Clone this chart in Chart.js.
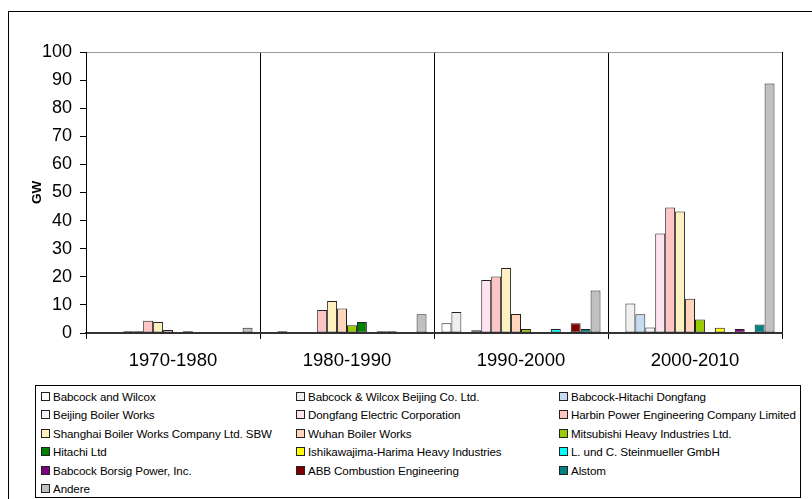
<!DOCTYPE html>
<html>
<head>
<meta charset="utf-8">
<script src="https://cdn.jsdelivr.net/npm/chart.js@4.4.0/dist/chart.umd.min.js"></script>
<style>
    html, body { margin: 0; padding: 0; background: #fff; overflow: hidden; }
    #wrap { position: relative; width: 812px; height: 499px; overflow: hidden; }
    #frame { position: absolute; left: 8px; top: 11px; width: 900px; height: 600px; border: 1px solid #000; }
    #chart { position: absolute; left: 0; top: 0; }
    #legend { position: absolute; left: 35px; top: 385px; width: 764px; height: 111px; border: 1px solid #000;
              background: #fff; font-family: "Liberation Sans", Arial, sans-serif; font-size: 11.6px; color: #000; }
    .item { position: absolute; white-space: nowrap; line-height: 14px; letter-spacing: -0.1px; }
    .box { display: inline-block; width: 7px; height: 7px; border: 1px solid #222; margin-right: 3px; vertical-align: 0px; }
</style>
</head>
<body>
<div id="wrap">
    <div id="frame"></div>
    <canvas id="chart" width="812" height="499"></canvas>
    <div id="legend"></div>
</div>
<script>
var periods = ['1970-1980', '1980-1990', '1990-2000', '2000-2010'];

var babcockWilcox      = [null, null, 3.5, null];
var babcockBeijing     = [null, 0.6, 7.5, 10.5];
var babcockHitachi     = [null, null, null, 6.7];
var beijingBoiler      = [0.6, null, 1.0, 2.0];
var dongfangElectric   = [0.6, null, 18.9, 35.4];
var harbinPower        = [4.4, 8.2, 20.1, 44.7];
var shanghaiBoiler     = [3.9, 11.4, 23.1, 43.2];
var wuhanBoiler        = [1.1, 8.7, 6.8, 12.2];
var mitsubishi         = [null, 2.8, 1.4, 4.8];
var hitachi            = [0.6, 3.9, null, null];
var ishikawajima       = [null, null, null, 1.9];
var steinmueller       = [null, 0.6, 1.4, null];
var babcockBorsig      = [null, 0.6, null, 1.4];
var abbCombustion      = [null, null, 3.5, null];
var alstom             = [null, null, 1.4, 3.0];
var andere             = [1.9, 6.7, 15.1, 88.8];

var series = [
    ['Babcock and Wilcox', babcockWilcox, '#ffffff'],
    ['Babcock & Wilcox Beijing Co. Ltd.', babcockBeijing, '#efefef'],
    ['Babcock-Hitachi Dongfang', babcockHitachi, '#c5dcf3'],
    ['Beijing Boiler Works', beijingBoiler, '#f3f3fb'],
    ['Dongfang Electric Corporation', dongfangElectric, '#ffe4ef'],
    ['Harbin Power Engineering Company Limited', harbinPower, '#ffc4c4'],
    ['Shanghai Boiler Works Company Ltd. SBW', shanghaiBoiler, '#fff0c0'],
    ['Wuhan Boiler Works', wuhanBoiler, '#ffd6bc'],
    ['Mitsubishi Heavy Industries Ltd.', mitsubishi, '#99cc00'],
    ['Hitachi Ltd', hitachi, '#008000'],
    ['Ishikawajima-Harima Heavy Industries', ishikawajima, '#ffff00'],
    ['L. und C. Steinmueller GmbH', steinmueller, '#00ffff'],
    ['Babcock Borsig Power, Inc.', babcockBorsig, '#800080'],
    ['ABB Combustion Engineering', abbCombustion, '#800000'],
    ['Alstom', alstom, '#008080'],
    ['Andere', andere, '#c0c0c0']
];

document.addEventListener('DOMContentLoaded', function () {
    var datasets = series.map(function (s) {
        return {
            label: s[0],
            data: s[1],
            backgroundColor: s[2],
            borderColor: '#222',
            borderWidth: 1,
            borderSkipped: false,
            categoryPercentage: 0.914,
            barPercentage: 1.0
        };
    });

    var ctx = document.getElementById('chart').getContext('2d');
    var chart = new Chart(ctx, {
        type: 'bar',
        data: { labels: periods, datasets: datasets },
        options: {
            responsive: false,
            animation: false,
            layout: { padding: { top: 52, right: 30, left: 0, bottom: 0 } },
            plugins: { legend: { display: false }, tooltip: { enabled: false } },
            scales: {
                x: {
                    afterFit: function (scale) { scale.height = 166; },
                    grid: {
                        offset: true,
                        drawOnChartArea: true,
                        color: function (c) { return c.index === 4 ? '#999' : '#000'; },
                        tickLength: 6,
                        lineWidth: 1
                    },
                    border: { color: '#333', width: 2 },
                    ticks: {
                        color: '#000',
                        padding: 11,
                        font: { family: '"Liberation Sans", Arial, sans-serif', size: 18.5 }
                    }
                },
                y: {
                    min: 0,
                    max: 100,
                    afterFit: function (scale) { scale.width = 86; },
                    grid: {
                        drawOnChartArea: true,
                        color: function (c) { return c.tick && c.tick.value === 100 ? '#999' : 'rgba(0,0,0,0)'; },
                        tickColor: '#000',
                        tickLength: 6
                    },
                    border: { color: '#000', width: 1 },
                    ticks: {
                        stepSize: 10,
                        color: '#000',
                        padding: 8,
                        font: { family: '"Liberation Sans", Arial, sans-serif', size: 18 }
                    },
                    title: {
                        display: true,
                        text: 'GW',
                        color: '#000',
                        padding: { top: 29, bottom: 0 },
                        font: { family: '"Liberation Sans", Arial, sans-serif', size: 13.5, weight: 'bold' }
                    }
                }
            }
        }
    });

    // legend: three columns, row-major like the original
    var colX = [5, 260, 523];
    var rowY = [4, 22, 40.5, 59, 78, 96];
    var legend = document.getElementById('legend');
    chart.data.datasets.forEach(function (ds, i) {
        var item = document.createElement('div');
        item.className = 'item';
        item.style.left = colX[i % 3] + 'px';
        item.style.top = rowY[Math.floor(i / 3)] + 'px';
        var box = document.createElement('span');
        box.className = 'box';
        box.style.background = ds.backgroundColor;
        item.appendChild(box);
        item.appendChild(document.createTextNode(ds.label));
        legend.appendChild(item);
    });
});
</script>
</body>
</html>
